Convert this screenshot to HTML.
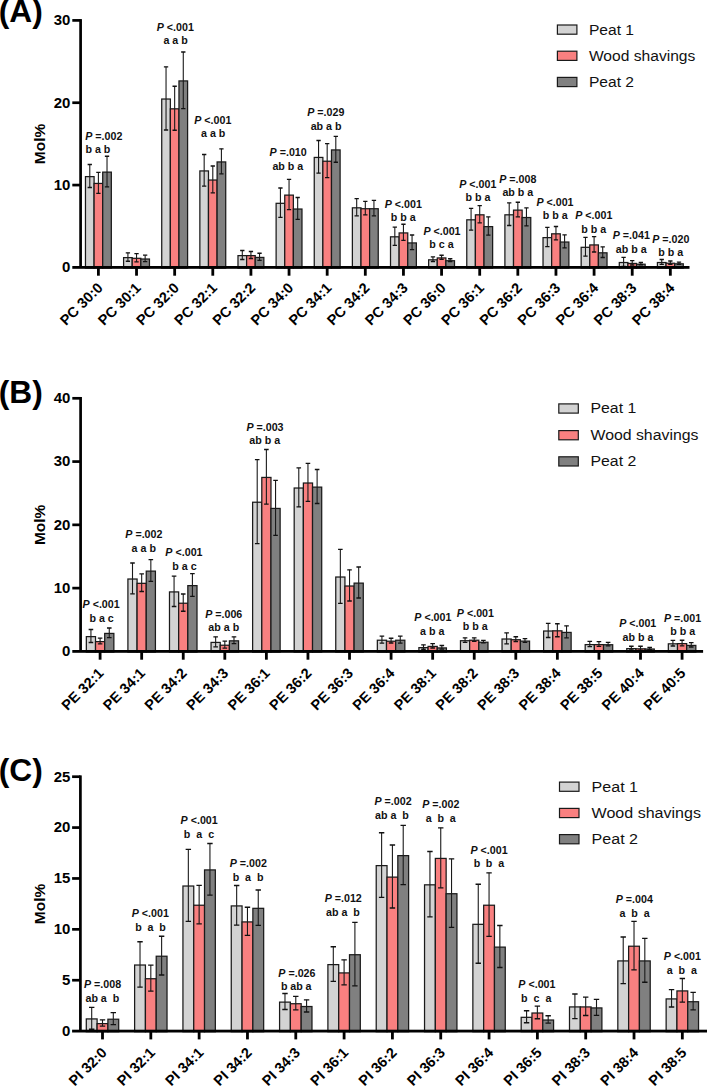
<!DOCTYPE html>
<html><head><meta charset="utf-8"><style>
html,body{margin:0;padding:0;background:#fff;overflow:hidden;}
svg{display:block;}
text{font-family:"Liberation Sans",sans-serif;fill:#000;}
.xl{font-size:14.5px;font-weight:bold;}
.an{font-size:10.0px;font-weight:bold;fill:#111;}
.tl{font-size:14.0px;font-weight:bold;}
.yt{font-size:15.5px;font-weight:bold;}
.pn{font-size:30.5px;font-weight:bold;}
.lg{font-size:14.6px;fill:#111;}
</style></head><body>
<svg width="707" height="1086" viewBox="0 0 707 1086">
<rect width="707" height="1086" fill="#fff"/>
<rect x="85.47" y="176.62" width="8.62" height="91.4" fill="#d3d3d3" stroke="#1a1a1a" stroke-width="1.25"/>
<rect x="94.09" y="183.43" width="8.62" height="84.6" fill="#f98080" stroke="#1a1a1a" stroke-width="1.25"/>
<rect x="102.71" y="172.12" width="8.62" height="95.9" fill="#808080" stroke="#1a1a1a" stroke-width="1.25"/>
<path d="M89.78 164.5V187.5" stroke="#1a1a1a" stroke-width="1.1" fill="none"/>
<path d="M87.62 164.5H91.94M87.62 187.5H91.94" stroke="#111" stroke-width="1.35" fill="none"/>
<path d="M98.4 172.3V193.3" stroke="#1a1a1a" stroke-width="1.1" fill="none"/>
<path d="M96.25 172.3H100.56M96.25 193.3H100.56" stroke="#111" stroke-width="1.35" fill="none"/>
<path d="M107.02 156.2V186.8" stroke="#1a1a1a" stroke-width="1.1" fill="none"/>
<path d="M104.86 156.2H109.17M104.86 186.8H109.17" stroke="#111" stroke-width="1.35" fill="none"/>
<rect x="97" y="267.4" width="2.8" height="8.3" fill="#000"/>
<text transform="translate(103.6 288.7) rotate(-45)" text-anchor="end" class="xl">PC 30:0</text>
<text transform="translate(85.2 139.8) scale(1.07 1)" class="an"><tspan font-style="italic">P</tspan> =.002</text>
<text transform="translate(97.9 152.7) scale(1.07 1)" text-anchor="middle" class="an">b a b</text>
<rect x="123.6" y="257.62" width="8.62" height="10.4" fill="#d3d3d3" stroke="#1a1a1a" stroke-width="1.25"/>
<rect x="132.22" y="258.32" width="8.62" height="9.7" fill="#f98080" stroke="#1a1a1a" stroke-width="1.25"/>
<rect x="140.84" y="259.02" width="8.62" height="9" fill="#808080" stroke="#1a1a1a" stroke-width="1.25"/>
<path d="M127.91 252.8V261.2" stroke="#1a1a1a" stroke-width="1.1" fill="none"/>
<path d="M125.75 252.8H130.06M125.75 261.2H130.06" stroke="#111" stroke-width="1.35" fill="none"/>
<path d="M136.53 253.55V261.85" stroke="#1a1a1a" stroke-width="1.1" fill="none"/>
<path d="M134.38 253.55H138.69M134.38 261.85H138.69" stroke="#111" stroke-width="1.35" fill="none"/>
<path d="M145.15 255.15V261.65" stroke="#1a1a1a" stroke-width="1.1" fill="none"/>
<path d="M142.99 255.15H147.3M142.99 261.65H147.3" stroke="#111" stroke-width="1.35" fill="none"/>
<rect x="135.13" y="267.4" width="2.8" height="8.3" fill="#000"/>
<text transform="translate(141.73 288.7) rotate(-45)" text-anchor="end" class="xl">PC 30:1</text>
<rect x="161.73" y="99.03" width="8.62" height="169" fill="#d3d3d3" stroke="#1a1a1a" stroke-width="1.25"/>
<rect x="170.35" y="108.83" width="8.62" height="159.2" fill="#f98080" stroke="#1a1a1a" stroke-width="1.25"/>
<rect x="178.97" y="80.92" width="8.62" height="187.1" fill="#808080" stroke="#1a1a1a" stroke-width="1.25"/>
<path d="M166.04 66.8V130" stroke="#1a1a1a" stroke-width="1.1" fill="none"/>
<path d="M163.89 66.8H168.2M163.89 130H168.2" stroke="#111" stroke-width="1.35" fill="none"/>
<path d="M174.66 86.2V130.2" stroke="#1a1a1a" stroke-width="1.1" fill="none"/>
<path d="M172.51 86.2H176.82M172.51 130.2H176.82" stroke="#111" stroke-width="1.35" fill="none"/>
<path d="M183.28 52V108.6" stroke="#1a1a1a" stroke-width="1.1" fill="none"/>
<path d="M181.13 52H185.44M181.13 108.6H185.44" stroke="#111" stroke-width="1.35" fill="none"/>
<rect x="173.26" y="267.4" width="2.8" height="8.3" fill="#000"/>
<text transform="translate(179.86 288.7) rotate(-45)" text-anchor="end" class="xl">PC 32:0</text>
<text transform="translate(175.26 31) scale(1.07 1)" text-anchor="middle" class="an"><tspan font-style="italic">P</tspan> <.001</text>
<text transform="translate(175.56 44.1) scale(1.07 1)" text-anchor="middle" class="an">a a b</text>
<rect x="199.86" y="170.93" width="8.62" height="97.1" fill="#d3d3d3" stroke="#1a1a1a" stroke-width="1.25"/>
<rect x="208.48" y="180.03" width="8.62" height="88" fill="#f98080" stroke="#1a1a1a" stroke-width="1.25"/>
<rect x="217.1" y="161.93" width="8.62" height="106.1" fill="#808080" stroke="#1a1a1a" stroke-width="1.25"/>
<path d="M204.17 154.5V186.1" stroke="#1a1a1a" stroke-width="1.1" fill="none"/>
<path d="M202.02 154.5H206.33M202.02 186.1H206.33" stroke="#111" stroke-width="1.35" fill="none"/>
<path d="M212.79 166V192.8" stroke="#1a1a1a" stroke-width="1.1" fill="none"/>
<path d="M210.64 166H214.95M210.64 192.8H214.95" stroke="#111" stroke-width="1.35" fill="none"/>
<path d="M221.41 148.8V173.8" stroke="#1a1a1a" stroke-width="1.1" fill="none"/>
<path d="M219.26 148.8H223.57M219.26 173.8H223.57" stroke="#111" stroke-width="1.35" fill="none"/>
<rect x="211.39" y="267.4" width="2.8" height="8.3" fill="#000"/>
<text transform="translate(217.99 288.7) rotate(-45)" text-anchor="end" class="xl">PC 32:1</text>
<text transform="translate(212.79 123.9) scale(1.07 1)" text-anchor="middle" class="an"><tspan font-style="italic">P</tspan> <.001</text>
<text transform="translate(213.19 136.8) scale(1.07 1)" text-anchor="middle" class="an">a a b</text>
<rect x="237.99" y="255.62" width="8.62" height="12.4" fill="#d3d3d3" stroke="#1a1a1a" stroke-width="1.25"/>
<rect x="246.61" y="255.62" width="8.62" height="12.4" fill="#f98080" stroke="#1a1a1a" stroke-width="1.25"/>
<rect x="255.23" y="257.43" width="8.62" height="10.6" fill="#808080" stroke="#1a1a1a" stroke-width="1.25"/>
<path d="M242.3 250.5V259.5" stroke="#1a1a1a" stroke-width="1.1" fill="none"/>
<path d="M240.15 250.5H244.46M240.15 259.5H244.46" stroke="#111" stroke-width="1.35" fill="none"/>
<path d="M250.92 251.5V258.5" stroke="#1a1a1a" stroke-width="1.1" fill="none"/>
<path d="M248.77 251.5H253.08M248.77 258.5H253.08" stroke="#111" stroke-width="1.35" fill="none"/>
<path d="M259.54 253.2V260.4" stroke="#1a1a1a" stroke-width="1.1" fill="none"/>
<path d="M257.39 253.2H261.69M257.39 260.4H261.69" stroke="#111" stroke-width="1.35" fill="none"/>
<rect x="249.52" y="267.4" width="2.8" height="8.3" fill="#000"/>
<text transform="translate(256.12 288.7) rotate(-45)" text-anchor="end" class="xl">PC 32:2</text>
<rect x="276.12" y="203.32" width="8.62" height="64.7" fill="#d3d3d3" stroke="#1a1a1a" stroke-width="1.25"/>
<rect x="284.74" y="195.12" width="8.62" height="72.9" fill="#f98080" stroke="#1a1a1a" stroke-width="1.25"/>
<rect x="293.36" y="209.03" width="8.62" height="59" fill="#808080" stroke="#1a1a1a" stroke-width="1.25"/>
<path d="M280.43 188V217.4" stroke="#1a1a1a" stroke-width="1.1" fill="none"/>
<path d="M278.28 188H282.58M278.28 217.4H282.58" stroke="#111" stroke-width="1.35" fill="none"/>
<path d="M289.05 179.4V209.6" stroke="#1a1a1a" stroke-width="1.1" fill="none"/>
<path d="M286.9 179.4H291.2M286.9 209.6H291.2" stroke="#111" stroke-width="1.35" fill="none"/>
<path d="M297.67 197.5V219.3" stroke="#1a1a1a" stroke-width="1.1" fill="none"/>
<path d="M295.52 197.5H299.82M295.52 219.3H299.82" stroke="#111" stroke-width="1.35" fill="none"/>
<rect x="287.65" y="267.4" width="2.8" height="8.3" fill="#000"/>
<text transform="translate(294.25 288.7) rotate(-45)" text-anchor="end" class="xl">PC 34:0</text>
<text transform="translate(288.15 156.3) scale(1.07 1)" text-anchor="middle" class="an"><tspan font-style="italic">P</tspan> =.010</text>
<text transform="translate(287.85 169.7) scale(1.07 1)" text-anchor="middle" class="an">ab b a</text>
<rect x="314.25" y="157.43" width="8.62" height="110.6" fill="#d3d3d3" stroke="#1a1a1a" stroke-width="1.25"/>
<rect x="322.87" y="161.22" width="8.62" height="106.8" fill="#f98080" stroke="#1a1a1a" stroke-width="1.25"/>
<rect x="331.49" y="149.93" width="8.62" height="118.1" fill="#808080" stroke="#1a1a1a" stroke-width="1.25"/>
<path d="M318.56 140.5V173.1" stroke="#1a1a1a" stroke-width="1.1" fill="none"/>
<path d="M316.41 140.5H320.72M316.41 173.1H320.72" stroke="#111" stroke-width="1.35" fill="none"/>
<path d="M327.18 143.6V177.6" stroke="#1a1a1a" stroke-width="1.1" fill="none"/>
<path d="M325.03 143.6H329.34M325.03 177.6H329.34" stroke="#111" stroke-width="1.35" fill="none"/>
<path d="M335.8 136.4V162.2" stroke="#1a1a1a" stroke-width="1.1" fill="none"/>
<path d="M333.65 136.4H337.96M333.65 162.2H337.96" stroke="#111" stroke-width="1.35" fill="none"/>
<rect x="325.78" y="267.4" width="2.8" height="8.3" fill="#000"/>
<text transform="translate(332.38 288.7) rotate(-45)" text-anchor="end" class="xl">PC 34:1</text>
<text transform="translate(325.78 116) scale(1.07 1)" text-anchor="middle" class="an"><tspan font-style="italic">P</tspan> =.029</text>
<text transform="translate(326.08 129.6) scale(1.07 1)" text-anchor="middle" class="an">ab a b</text>
<rect x="352.38" y="207.82" width="8.62" height="60.2" fill="#d3d3d3" stroke="#1a1a1a" stroke-width="1.25"/>
<rect x="361" y="208.72" width="8.62" height="59.3" fill="#f98080" stroke="#1a1a1a" stroke-width="1.25"/>
<rect x="369.62" y="208.72" width="8.62" height="59.3" fill="#808080" stroke="#1a1a1a" stroke-width="1.25"/>
<path d="M356.69 198.6V215.8" stroke="#1a1a1a" stroke-width="1.1" fill="none"/>
<path d="M354.54 198.6H358.85M354.54 215.8H358.85" stroke="#111" stroke-width="1.35" fill="none"/>
<path d="M365.31 201.3V214.9" stroke="#1a1a1a" stroke-width="1.1" fill="none"/>
<path d="M363.16 201.3H367.47M363.16 214.9H367.47" stroke="#111" stroke-width="1.35" fill="none"/>
<path d="M373.93 200.4V215.8" stroke="#1a1a1a" stroke-width="1.1" fill="none"/>
<path d="M371.78 200.4H376.09M371.78 215.8H376.09" stroke="#111" stroke-width="1.35" fill="none"/>
<rect x="363.91" y="267.4" width="2.8" height="8.3" fill="#000"/>
<text transform="translate(370.51 288.7) rotate(-45)" text-anchor="end" class="xl">PC 34:2</text>
<rect x="390.51" y="236.82" width="8.62" height="31.2" fill="#d3d3d3" stroke="#1a1a1a" stroke-width="1.25"/>
<rect x="399.13" y="232.93" width="8.62" height="35.1" fill="#f98080" stroke="#1a1a1a" stroke-width="1.25"/>
<rect x="407.75" y="242.93" width="8.62" height="25.1" fill="#808080" stroke="#1a1a1a" stroke-width="1.25"/>
<path d="M394.82 227.1V245.3" stroke="#1a1a1a" stroke-width="1.1" fill="none"/>
<path d="M392.67 227.1H396.98M392.67 245.3H396.98" stroke="#111" stroke-width="1.35" fill="none"/>
<path d="M403.44 224.2V240.4" stroke="#1a1a1a" stroke-width="1.1" fill="none"/>
<path d="M401.29 224.2H405.6M401.29 240.4H405.6" stroke="#111" stroke-width="1.35" fill="none"/>
<path d="M412.06 235V249.6" stroke="#1a1a1a" stroke-width="1.1" fill="none"/>
<path d="M409.91 235H414.22M409.91 249.6H414.22" stroke="#111" stroke-width="1.35" fill="none"/>
<rect x="402.04" y="267.4" width="2.8" height="8.3" fill="#000"/>
<text transform="translate(408.64 288.7) rotate(-45)" text-anchor="end" class="xl">PC 34:3</text>
<text transform="translate(403.24 207.9) scale(1.07 1)" text-anchor="middle" class="an"><tspan font-style="italic">P</tspan> <.001</text>
<text transform="translate(403.24 221) scale(1.07 1)" text-anchor="middle" class="an">b b a</text>
<rect x="428.64" y="259.82" width="8.62" height="8.2" fill="#d3d3d3" stroke="#1a1a1a" stroke-width="1.25"/>
<rect x="437.26" y="257.93" width="8.62" height="10.1" fill="#f98080" stroke="#1a1a1a" stroke-width="1.25"/>
<rect x="445.88" y="260.73" width="8.62" height="7.3" fill="#808080" stroke="#1a1a1a" stroke-width="1.25"/>
<path d="M432.95 256.9V261.5" stroke="#1a1a1a" stroke-width="1.1" fill="none"/>
<path d="M430.8 256.9H435.11M430.8 261.5H435.11" stroke="#111" stroke-width="1.35" fill="none"/>
<path d="M441.57 255.2V259.4" stroke="#1a1a1a" stroke-width="1.1" fill="none"/>
<path d="M439.42 255.2H443.73M439.42 259.4H443.73" stroke="#111" stroke-width="1.35" fill="none"/>
<path d="M450.19 258.7V261.5" stroke="#1a1a1a" stroke-width="1.1" fill="none"/>
<path d="M448.04 258.7H452.35M448.04 261.5H452.35" stroke="#111" stroke-width="1.35" fill="none"/>
<rect x="440.17" y="267.4" width="2.8" height="8.3" fill="#000"/>
<text transform="translate(446.77 288.7) rotate(-45)" text-anchor="end" class="xl">PC 36:0</text>
<text transform="translate(441.97 234.6) scale(1.07 1)" text-anchor="middle" class="an"><tspan font-style="italic">P</tspan> <.001</text>
<text transform="translate(441.47 247.5) scale(1.07 1)" text-anchor="middle" class="an">b c a</text>
<rect x="466.77" y="219.82" width="8.62" height="48.2" fill="#d3d3d3" stroke="#1a1a1a" stroke-width="1.25"/>
<rect x="475.39" y="214.82" width="8.62" height="53.2" fill="#f98080" stroke="#1a1a1a" stroke-width="1.25"/>
<rect x="484.01" y="226.62" width="8.62" height="41.4" fill="#808080" stroke="#1a1a1a" stroke-width="1.25"/>
<path d="M471.08 208.3V230.1" stroke="#1a1a1a" stroke-width="1.1" fill="none"/>
<path d="M468.93 208.3H473.24M468.93 230.1H473.24" stroke="#111" stroke-width="1.35" fill="none"/>
<path d="M479.7 205.6V222.8" stroke="#1a1a1a" stroke-width="1.1" fill="none"/>
<path d="M477.55 205.6H481.86M477.55 222.8H481.86" stroke="#111" stroke-width="1.35" fill="none"/>
<path d="M488.32 216.9V235.1" stroke="#1a1a1a" stroke-width="1.1" fill="none"/>
<path d="M486.17 216.9H490.48M486.17 235.1H490.48" stroke="#111" stroke-width="1.35" fill="none"/>
<rect x="478.3" y="267.4" width="2.8" height="8.3" fill="#000"/>
<text transform="translate(484.9 288.7) rotate(-45)" text-anchor="end" class="xl">PC 36:1</text>
<text transform="translate(477.8 187.5) scale(1.07 1)" text-anchor="middle" class="an"><tspan font-style="italic">P</tspan> <.001</text>
<text transform="translate(478 201.1) scale(1.07 1)" text-anchor="middle" class="an">b b a</text>
<rect x="504.9" y="214.82" width="8.62" height="53.2" fill="#d3d3d3" stroke="#1a1a1a" stroke-width="1.25"/>
<rect x="513.52" y="210.12" width="8.62" height="57.9" fill="#f98080" stroke="#1a1a1a" stroke-width="1.25"/>
<rect x="522.14" y="217.53" width="8.62" height="50.5" fill="#808080" stroke="#1a1a1a" stroke-width="1.25"/>
<path d="M509.21 202.9V225.5" stroke="#1a1a1a" stroke-width="1.1" fill="none"/>
<path d="M507.06 202.9H511.37M507.06 225.5H511.37" stroke="#111" stroke-width="1.35" fill="none"/>
<path d="M517.83 202.2V216.8" stroke="#1a1a1a" stroke-width="1.1" fill="none"/>
<path d="M515.68 202.2H519.99M515.68 216.8H519.99" stroke="#111" stroke-width="1.35" fill="none"/>
<path d="M526.45 207.9V225.9" stroke="#1a1a1a" stroke-width="1.1" fill="none"/>
<path d="M524.3 207.9H528.61M524.3 225.9H528.61" stroke="#111" stroke-width="1.35" fill="none"/>
<rect x="516.43" y="267.4" width="2.8" height="8.3" fill="#000"/>
<text transform="translate(523.03 288.7) rotate(-45)" text-anchor="end" class="xl">PC 36:2</text>
<text transform="translate(517.83 182.5) scale(1.07 1)" text-anchor="middle" class="an"><tspan font-style="italic">P</tspan> =.008</text>
<text transform="translate(517.83 196.1) scale(1.07 1)" text-anchor="middle" class="an">ab b a</text>
<rect x="543.03" y="237.62" width="8.62" height="30.4" fill="#d3d3d3" stroke="#1a1a1a" stroke-width="1.25"/>
<rect x="551.65" y="233.82" width="8.62" height="34.2" fill="#f98080" stroke="#1a1a1a" stroke-width="1.25"/>
<rect x="560.27" y="242.03" width="8.62" height="26" fill="#808080" stroke="#1a1a1a" stroke-width="1.25"/>
<path d="M547.34 227.4V246.6" stroke="#1a1a1a" stroke-width="1.1" fill="none"/>
<path d="M545.19 227.4H549.5M545.19 246.6H549.5" stroke="#111" stroke-width="1.35" fill="none"/>
<path d="M555.96 226.5V239.9" stroke="#1a1a1a" stroke-width="1.1" fill="none"/>
<path d="M553.81 226.5H558.12M553.81 239.9H558.12" stroke="#111" stroke-width="1.35" fill="none"/>
<path d="M564.58 234.9V247.9" stroke="#1a1a1a" stroke-width="1.1" fill="none"/>
<path d="M562.43 234.9H566.74M562.43 247.9H566.74" stroke="#111" stroke-width="1.35" fill="none"/>
<rect x="554.56" y="267.4" width="2.8" height="8.3" fill="#000"/>
<text transform="translate(561.16 288.7) rotate(-45)" text-anchor="end" class="xl">PC 36:3</text>
<text transform="translate(554.96 205.8) scale(1.07 1)" text-anchor="middle" class="an"><tspan font-style="italic">P</tspan> <.001</text>
<text transform="translate(555.26 219.2) scale(1.07 1)" text-anchor="middle" class="an">b b a</text>
<rect x="581.16" y="247.32" width="8.62" height="20.7" fill="#d3d3d3" stroke="#1a1a1a" stroke-width="1.25"/>
<rect x="589.78" y="244.93" width="8.62" height="23.1" fill="#f98080" stroke="#1a1a1a" stroke-width="1.25"/>
<rect x="598.4" y="252.82" width="8.62" height="15.2" fill="#808080" stroke="#1a1a1a" stroke-width="1.25"/>
<path d="M585.47 237.3V256.1" stroke="#1a1a1a" stroke-width="1.1" fill="none"/>
<path d="M583.32 237.3H587.62M583.32 256.1H587.62" stroke="#111" stroke-width="1.35" fill="none"/>
<path d="M594.09 236.6V252" stroke="#1a1a1a" stroke-width="1.1" fill="none"/>
<path d="M591.94 236.6H596.25M591.94 252H596.25" stroke="#111" stroke-width="1.35" fill="none"/>
<path d="M602.71 246.9V257.5" stroke="#1a1a1a" stroke-width="1.1" fill="none"/>
<path d="M600.56 246.9H604.87M600.56 257.5H604.87" stroke="#111" stroke-width="1.35" fill="none"/>
<rect x="592.69" y="267.4" width="2.8" height="8.3" fill="#000"/>
<text transform="translate(599.29 288.7) rotate(-45)" text-anchor="end" class="xl">PC 36:4</text>
<text transform="translate(593.79 219) scale(1.07 1)" text-anchor="middle" class="an"><tspan font-style="italic">P</tspan> <.001</text>
<text transform="translate(593.69 232.5) scale(1.07 1)" text-anchor="middle" class="an">b b a</text>
<rect x="619.29" y="262.52" width="8.62" height="5.5" fill="#d3d3d3" stroke="#1a1a1a" stroke-width="1.25"/>
<rect x="627.91" y="263.43" width="8.62" height="4.6" fill="#f98080" stroke="#1a1a1a" stroke-width="1.25"/>
<rect x="636.53" y="264.23" width="8.62" height="3.8" fill="#808080" stroke="#1a1a1a" stroke-width="1.25"/>
<path d="M623.6 257.4V266.4" stroke="#1a1a1a" stroke-width="1.1" fill="none"/>
<path d="M621.45 257.4H625.75M621.45 266.4H625.75" stroke="#111" stroke-width="1.35" fill="none"/>
<path d="M632.22 260.6V265" stroke="#1a1a1a" stroke-width="1.1" fill="none"/>
<path d="M630.07 260.6H634.38M630.07 265H634.38" stroke="#111" stroke-width="1.35" fill="none"/>
<path d="M640.84 262.5V264.7" stroke="#1a1a1a" stroke-width="1.1" fill="none"/>
<path d="M638.69 262.5H643M638.69 264.7H643" stroke="#111" stroke-width="1.35" fill="none"/>
<rect x="630.82" y="267.4" width="2.8" height="8.3" fill="#000"/>
<text transform="translate(637.42 288.7) rotate(-45)" text-anchor="end" class="xl">PC 38:3</text>
<text transform="translate(631.32 239) scale(1.07 1)" text-anchor="middle" class="an"><tspan font-style="italic">P</tspan> =.041</text>
<text transform="translate(631.12 252.7) scale(1.07 1)" text-anchor="middle" class="an">ab b a</text>
<rect x="657.42" y="262.52" width="8.62" height="5.5" fill="#d3d3d3" stroke="#1a1a1a" stroke-width="1.25"/>
<rect x="666.04" y="263.23" width="8.62" height="4.8" fill="#f98080" stroke="#1a1a1a" stroke-width="1.25"/>
<rect x="674.66" y="263.82" width="8.62" height="4.2" fill="#808080" stroke="#1a1a1a" stroke-width="1.25"/>
<path d="M661.73 259.5V264.3" stroke="#1a1a1a" stroke-width="1.1" fill="none"/>
<path d="M659.58 259.5H663.88M659.58 264.3H663.88" stroke="#111" stroke-width="1.35" fill="none"/>
<path d="M670.35 261V264.2" stroke="#1a1a1a" stroke-width="1.1" fill="none"/>
<path d="M668.2 261H672.5M668.2 264.2H672.5" stroke="#111" stroke-width="1.35" fill="none"/>
<path d="M678.97 262.1V264.3" stroke="#1a1a1a" stroke-width="1.1" fill="none"/>
<path d="M676.82 262.1H681.12M676.82 264.3H681.12" stroke="#111" stroke-width="1.35" fill="none"/>
<rect x="668.95" y="267.4" width="2.8" height="8.3" fill="#000"/>
<text transform="translate(675.55 288.7) rotate(-45)" text-anchor="end" class="xl">PC 38:4</text>
<text transform="translate(670.75 243) scale(1.07 1)" text-anchor="middle" class="an"><tspan font-style="italic">P</tspan> =.020</text>
<text transform="translate(670.65 255.8) scale(1.07 1)" text-anchor="middle" class="an">b b a</text>
<rect x="79.25" y="19.1" width="2.7" height="248.3" fill="#000"/>
<rect x="72.3" y="266" width="617.2" height="2.8" fill="#000"/>
<text transform="translate(70.4 272.3) scale(1.07 1)" text-anchor="end" class="tl">0</text>
<rect x="72.3" y="183.72" width="8.3" height="2.7" fill="#000"/>
<text transform="translate(70.4 189.97) scale(1.07 1)" text-anchor="end" class="tl">10</text>
<rect x="72.3" y="101.38" width="8.3" height="2.7" fill="#000"/>
<text transform="translate(70.4 107.63) scale(1.07 1)" text-anchor="end" class="tl">20</text>
<rect x="72.3" y="19.05" width="8.3" height="2.7" fill="#000"/>
<text transform="translate(70.4 25.3) scale(1.07 1)" text-anchor="end" class="tl">30</text>
<text transform="translate(45 143.9) rotate(-90)" text-anchor="middle" class="yt">Mol%</text>
<text transform="translate(-1.3 22.2) scale(1.04 1)" class="pn">(A)</text>
<rect x="557.4" y="25" width="19.5" height="9.2" fill="#d3d3d3" stroke="#1a1a1a" stroke-width="1.2"/>
<text transform="translate(588.9 34.5) scale(1.07 1)" class="lg">Peat 1</text>
<rect x="557.4" y="51.2" width="19.5" height="9.2" fill="#f98080" stroke="#1a1a1a" stroke-width="1.2"/>
<text transform="translate(588.9 60.7) scale(1.07 1)" class="lg">Wood shavings</text>
<rect x="557.4" y="77.4" width="19.5" height="9.2" fill="#808080" stroke="#1a1a1a" stroke-width="1.2"/>
<text transform="translate(588.9 86.9) scale(1.07 1)" class="lg">Peat 2</text>
<rect x="86.34" y="636.62" width="9.17" height="15.4" fill="#d3d3d3" stroke="#1a1a1a" stroke-width="1.25"/>
<rect x="95.52" y="641.62" width="9.17" height="10.4" fill="#f98080" stroke="#1a1a1a" stroke-width="1.25"/>
<rect x="104.69" y="633.42" width="9.17" height="18.6" fill="#808080" stroke="#1a1a1a" stroke-width="1.25"/>
<path d="M90.93 629.5V642.5" stroke="#1a1a1a" stroke-width="1.1" fill="none"/>
<path d="M88.64 629.5H93.22M88.64 642.5H93.22" stroke="#111" stroke-width="1.35" fill="none"/>
<path d="M100.1 638.1V643.9" stroke="#1a1a1a" stroke-width="1.1" fill="none"/>
<path d="M97.81 638.1H102.39M97.81 643.9H102.39" stroke="#111" stroke-width="1.35" fill="none"/>
<path d="M109.27 628V637.6" stroke="#1a1a1a" stroke-width="1.1" fill="none"/>
<path d="M106.98 628H111.56M106.98 637.6H111.56" stroke="#111" stroke-width="1.35" fill="none"/>
<rect x="98.7" y="651.4" width="2.8" height="8.3" fill="#000"/>
<text transform="translate(104.5 674.1) rotate(-45)" text-anchor="end" class="xl">PE 32:1</text>
<text transform="translate(101.1 608.3) scale(1.07 1)" text-anchor="middle" class="an"><tspan font-style="italic">P</tspan> <.001</text>
<text transform="translate(101.6 622) scale(1.07 1)" text-anchor="middle" class="an">b a c</text>
<rect x="127.91" y="579.02" width="9.17" height="73" fill="#d3d3d3" stroke="#1a1a1a" stroke-width="1.25"/>
<rect x="137.08" y="583.33" width="9.17" height="68.7" fill="#f98080" stroke="#1a1a1a" stroke-width="1.25"/>
<rect x="146.25" y="571.12" width="9.17" height="80.9" fill="#808080" stroke="#1a1a1a" stroke-width="1.25"/>
<path d="M132.5 563V593.8" stroke="#1a1a1a" stroke-width="1.1" fill="none"/>
<path d="M130.21 563H134.79M130.21 593.8H134.79" stroke="#111" stroke-width="1.35" fill="none"/>
<path d="M141.67 573.9V591.5" stroke="#1a1a1a" stroke-width="1.1" fill="none"/>
<path d="M139.38 573.9H143.96M139.38 591.5H143.96" stroke="#111" stroke-width="1.35" fill="none"/>
<path d="M150.84 559.6V581.4" stroke="#1a1a1a" stroke-width="1.1" fill="none"/>
<path d="M148.55 559.6H153.13M148.55 581.4H153.13" stroke="#111" stroke-width="1.35" fill="none"/>
<rect x="140.27" y="651.4" width="2.8" height="8.3" fill="#000"/>
<text transform="translate(146.07 674.1) rotate(-45)" text-anchor="end" class="xl">PE 34:1</text>
<text transform="translate(143.87 538.1) scale(1.07 1)" text-anchor="middle" class="an"><tspan font-style="italic">P</tspan> =.002</text>
<text transform="translate(143.77 552.1) scale(1.07 1)" text-anchor="middle" class="an">a a b</text>
<rect x="169.49" y="591.92" width="9.17" height="60.1" fill="#d3d3d3" stroke="#1a1a1a" stroke-width="1.25"/>
<rect x="178.66" y="603.23" width="9.17" height="48.8" fill="#f98080" stroke="#1a1a1a" stroke-width="1.25"/>
<rect x="187.83" y="585.62" width="9.17" height="66.4" fill="#808080" stroke="#1a1a1a" stroke-width="1.25"/>
<path d="M174.07 576.1V606.5" stroke="#1a1a1a" stroke-width="1.1" fill="none"/>
<path d="M171.78 576.1H176.36M171.78 606.5H176.36" stroke="#111" stroke-width="1.35" fill="none"/>
<path d="M183.24 594V611.2" stroke="#1a1a1a" stroke-width="1.1" fill="none"/>
<path d="M180.95 594H185.53M180.95 611.2H185.53" stroke="#111" stroke-width="1.35" fill="none"/>
<path d="M192.41 573.6V596.4" stroke="#1a1a1a" stroke-width="1.1" fill="none"/>
<path d="M190.12 573.6H194.7M190.12 596.4H194.7" stroke="#111" stroke-width="1.35" fill="none"/>
<rect x="181.84" y="651.4" width="2.8" height="8.3" fill="#000"/>
<text transform="translate(187.64 674.1) rotate(-45)" text-anchor="end" class="xl">PE 34:2</text>
<text transform="translate(183.94 556.2) scale(1.07 1)" text-anchor="middle" class="an"><tspan font-style="italic">P</tspan> <.001</text>
<text transform="translate(184.44 569.8) scale(1.07 1)" text-anchor="middle" class="an">b a c</text>
<rect x="211.06" y="642.42" width="9.17" height="9.6" fill="#d3d3d3" stroke="#1a1a1a" stroke-width="1.25"/>
<rect x="220.22" y="645.23" width="9.17" height="6.8" fill="#f98080" stroke="#1a1a1a" stroke-width="1.25"/>
<rect x="229.4" y="640.83" width="9.17" height="11.2" fill="#808080" stroke="#1a1a1a" stroke-width="1.25"/>
<path d="M215.64 636.8V646.8" stroke="#1a1a1a" stroke-width="1.1" fill="none"/>
<path d="M213.35 636.8H217.93M213.35 646.8H217.93" stroke="#111" stroke-width="1.35" fill="none"/>
<path d="M224.81 641.1V648.1" stroke="#1a1a1a" stroke-width="1.1" fill="none"/>
<path d="M222.52 641.1H227.1M222.52 648.1H227.1" stroke="#111" stroke-width="1.35" fill="none"/>
<path d="M233.98 636.8V643.6" stroke="#1a1a1a" stroke-width="1.1" fill="none"/>
<path d="M231.69 636.8H236.27M231.69 643.6H236.27" stroke="#111" stroke-width="1.35" fill="none"/>
<rect x="223.41" y="651.4" width="2.8" height="8.3" fill="#000"/>
<text transform="translate(229.21 674.1) rotate(-45)" text-anchor="end" class="xl">PE 34:3</text>
<text transform="translate(223.71 617.8) scale(1.07 1)" text-anchor="middle" class="an"><tspan font-style="italic">P</tspan> =.006</text>
<text transform="translate(223.71 631.3) scale(1.07 1)" text-anchor="middle" class="an">ab a b</text>
<rect x="252.62" y="502.23" width="9.17" height="149.8" fill="#d3d3d3" stroke="#1a1a1a" stroke-width="1.25"/>
<rect x="261.8" y="477.43" width="9.17" height="174.6" fill="#f98080" stroke="#1a1a1a" stroke-width="1.25"/>
<rect x="270.96" y="508.43" width="9.17" height="143.6" fill="#808080" stroke="#1a1a1a" stroke-width="1.25"/>
<path d="M257.21 459.6V543.6" stroke="#1a1a1a" stroke-width="1.1" fill="none"/>
<path d="M254.92 459.6H259.5M254.92 543.6H259.5" stroke="#111" stroke-width="1.35" fill="none"/>
<path d="M266.38 449.5V504.1" stroke="#1a1a1a" stroke-width="1.1" fill="none"/>
<path d="M264.09 449.5H268.67M264.09 504.1H268.67" stroke="#111" stroke-width="1.35" fill="none"/>
<path d="M275.55 480.3V535.3" stroke="#1a1a1a" stroke-width="1.1" fill="none"/>
<path d="M273.26 480.3H277.84M273.26 535.3H277.84" stroke="#111" stroke-width="1.35" fill="none"/>
<rect x="264.98" y="651.4" width="2.8" height="8.3" fill="#000"/>
<text transform="translate(270.78 674.1) rotate(-45)" text-anchor="end" class="xl">PE 36:1</text>
<text transform="translate(264.98 431) scale(1.07 1)" text-anchor="middle" class="an"><tspan font-style="italic">P</tspan> =.003</text>
<text transform="translate(264.78 444.4) scale(1.07 1)" text-anchor="middle" class="an">ab b a</text>
<rect x="294.19" y="488.02" width="9.17" height="164" fill="#d3d3d3" stroke="#1a1a1a" stroke-width="1.25"/>
<rect x="303.37" y="483.02" width="9.17" height="169" fill="#f98080" stroke="#1a1a1a" stroke-width="1.25"/>
<rect x="312.53" y="487.12" width="9.17" height="164.9" fill="#808080" stroke="#1a1a1a" stroke-width="1.25"/>
<path d="M298.78 467.9V506.9" stroke="#1a1a1a" stroke-width="1.1" fill="none"/>
<path d="M296.49 467.9H301.07M296.49 506.9H301.07" stroke="#111" stroke-width="1.35" fill="none"/>
<path d="M307.95 463.4V501.4" stroke="#1a1a1a" stroke-width="1.1" fill="none"/>
<path d="M305.66 463.4H310.24M305.66 501.4H310.24" stroke="#111" stroke-width="1.35" fill="none"/>
<path d="M317.12 469.5V503.5" stroke="#1a1a1a" stroke-width="1.1" fill="none"/>
<path d="M314.83 469.5H319.41M314.83 503.5H319.41" stroke="#111" stroke-width="1.35" fill="none"/>
<rect x="306.55" y="651.4" width="2.8" height="8.3" fill="#000"/>
<text transform="translate(312.35 674.1) rotate(-45)" text-anchor="end" class="xl">PE 36:2</text>
<rect x="335.76" y="577.02" width="9.17" height="75" fill="#d3d3d3" stroke="#1a1a1a" stroke-width="1.25"/>
<rect x="344.94" y="586.02" width="9.17" height="66" fill="#f98080" stroke="#1a1a1a" stroke-width="1.25"/>
<rect x="354.1" y="583.12" width="9.17" height="68.9" fill="#808080" stroke="#1a1a1a" stroke-width="1.25"/>
<path d="M340.35 549.4V603.4" stroke="#1a1a1a" stroke-width="1.1" fill="none"/>
<path d="M338.06 549.4H342.64M338.06 603.4H342.64" stroke="#111" stroke-width="1.35" fill="none"/>
<path d="M349.52 569.8V601" stroke="#1a1a1a" stroke-width="1.1" fill="none"/>
<path d="M347.23 569.8H351.81M347.23 601H351.81" stroke="#111" stroke-width="1.35" fill="none"/>
<path d="M358.69 567V598" stroke="#1a1a1a" stroke-width="1.1" fill="none"/>
<path d="M356.4 567H360.98M356.4 598H360.98" stroke="#111" stroke-width="1.35" fill="none"/>
<rect x="348.12" y="651.4" width="2.8" height="8.3" fill="#000"/>
<text transform="translate(353.92 674.1) rotate(-45)" text-anchor="end" class="xl">PE 36:3</text>
<rect x="377.34" y="640.23" width="9.17" height="11.8" fill="#d3d3d3" stroke="#1a1a1a" stroke-width="1.25"/>
<rect x="386.51" y="641.23" width="9.17" height="10.8" fill="#f98080" stroke="#1a1a1a" stroke-width="1.25"/>
<rect x="395.68" y="640.23" width="9.17" height="11.8" fill="#808080" stroke="#1a1a1a" stroke-width="1.25"/>
<path d="M381.92 636.1V643.1" stroke="#1a1a1a" stroke-width="1.1" fill="none"/>
<path d="M379.63 636.1H384.21M379.63 643.1H384.21" stroke="#111" stroke-width="1.35" fill="none"/>
<path d="M391.09 638.2V643" stroke="#1a1a1a" stroke-width="1.1" fill="none"/>
<path d="M388.8 638.2H393.38M388.8 643H393.38" stroke="#111" stroke-width="1.35" fill="none"/>
<path d="M400.26 636.1V643.1" stroke="#1a1a1a" stroke-width="1.1" fill="none"/>
<path d="M397.97 636.1H402.55M397.97 643.1H402.55" stroke="#111" stroke-width="1.35" fill="none"/>
<rect x="389.69" y="651.4" width="2.8" height="8.3" fill="#000"/>
<text transform="translate(395.49 674.1) rotate(-45)" text-anchor="end" class="xl">PE 36:4</text>
<rect x="418.9" y="647.62" width="9.17" height="4.4" fill="#d3d3d3" stroke="#1a1a1a" stroke-width="1.25"/>
<rect x="428.07" y="646.42" width="9.17" height="5.6" fill="#f98080" stroke="#1a1a1a" stroke-width="1.25"/>
<rect x="437.24" y="647.92" width="9.17" height="4.1" fill="#808080" stroke="#1a1a1a" stroke-width="1.25"/>
<path d="M423.49 644.8V649.2" stroke="#1a1a1a" stroke-width="1.1" fill="none"/>
<path d="M421.2 644.8H425.78M421.2 649.2H425.78" stroke="#111" stroke-width="1.35" fill="none"/>
<path d="M432.66 643.6V648" stroke="#1a1a1a" stroke-width="1.1" fill="none"/>
<path d="M430.37 643.6H434.95M430.37 648H434.95" stroke="#111" stroke-width="1.35" fill="none"/>
<path d="M441.83 645.5V649.1" stroke="#1a1a1a" stroke-width="1.1" fill="none"/>
<path d="M439.54 645.5H444.12M439.54 649.1H444.12" stroke="#111" stroke-width="1.35" fill="none"/>
<rect x="431.26" y="651.4" width="2.8" height="8.3" fill="#000"/>
<text transform="translate(437.06 674.1) rotate(-45)" text-anchor="end" class="xl">PE 38:1</text>
<text transform="translate(432.86 621.2) scale(1.07 1)" text-anchor="middle" class="an"><tspan font-style="italic">P</tspan> <.001</text>
<text transform="translate(432.26 635.2) scale(1.07 1)" text-anchor="middle" class="an">a b a</text>
<rect x="460.48" y="640.73" width="9.17" height="11.3" fill="#d3d3d3" stroke="#1a1a1a" stroke-width="1.25"/>
<rect x="469.65" y="640.23" width="9.17" height="11.8" fill="#f98080" stroke="#1a1a1a" stroke-width="1.25"/>
<rect x="478.81" y="642.23" width="9.17" height="9.8" fill="#808080" stroke="#1a1a1a" stroke-width="1.25"/>
<path d="M465.06 637.8V642.4" stroke="#1a1a1a" stroke-width="1.1" fill="none"/>
<path d="M462.77 637.8H467.35M462.77 642.4H467.35" stroke="#111" stroke-width="1.35" fill="none"/>
<path d="M474.23 637.8V641.4" stroke="#1a1a1a" stroke-width="1.1" fill="none"/>
<path d="M471.94 637.8H476.52M471.94 641.4H476.52" stroke="#111" stroke-width="1.35" fill="none"/>
<path d="M483.4 640.4V642.8" stroke="#1a1a1a" stroke-width="1.1" fill="none"/>
<path d="M481.11 640.4H485.69M481.11 642.8H485.69" stroke="#111" stroke-width="1.35" fill="none"/>
<rect x="472.83" y="651.4" width="2.8" height="8.3" fill="#000"/>
<text transform="translate(478.63 674.1) rotate(-45)" text-anchor="end" class="xl">PE 38:2</text>
<text transform="translate(475.43 616.9) scale(1.07 1)" text-anchor="middle" class="an"><tspan font-style="italic">P</tspan> <.001</text>
<text transform="translate(475.33 630.2) scale(1.07 1)" text-anchor="middle" class="an">b b a</text>
<rect x="502.04" y="639.02" width="9.17" height="13" fill="#d3d3d3" stroke="#1a1a1a" stroke-width="1.25"/>
<rect x="511.21" y="639.73" width="9.17" height="12.3" fill="#f98080" stroke="#1a1a1a" stroke-width="1.25"/>
<rect x="520.38" y="641.12" width="9.17" height="10.9" fill="#808080" stroke="#1a1a1a" stroke-width="1.25"/>
<path d="M506.63 632.9V643.9" stroke="#1a1a1a" stroke-width="1.1" fill="none"/>
<path d="M504.34 632.9H508.92M504.34 643.9H508.92" stroke="#111" stroke-width="1.35" fill="none"/>
<path d="M515.8 636.7V641.5" stroke="#1a1a1a" stroke-width="1.1" fill="none"/>
<path d="M513.51 636.7H518.09M513.51 641.5H518.09" stroke="#111" stroke-width="1.35" fill="none"/>
<path d="M524.97 638.6V642.4" stroke="#1a1a1a" stroke-width="1.1" fill="none"/>
<path d="M522.68 638.6H527.26M522.68 642.4H527.26" stroke="#111" stroke-width="1.35" fill="none"/>
<rect x="514.4" y="651.4" width="2.8" height="8.3" fill="#000"/>
<text transform="translate(520.2 674.1) rotate(-45)" text-anchor="end" class="xl">PE 38:3</text>
<rect x="543.62" y="631.02" width="9.17" height="21" fill="#d3d3d3" stroke="#1a1a1a" stroke-width="1.25"/>
<rect x="552.78" y="630.83" width="9.17" height="21.2" fill="#f98080" stroke="#1a1a1a" stroke-width="1.25"/>
<rect x="561.96" y="632.42" width="9.17" height="19.6" fill="#808080" stroke="#1a1a1a" stroke-width="1.25"/>
<path d="M548.2 623.3V637.5" stroke="#1a1a1a" stroke-width="1.1" fill="none"/>
<path d="M545.91 623.3H550.49M545.91 637.5H550.49" stroke="#111" stroke-width="1.35" fill="none"/>
<path d="M557.37 623.7V636.7" stroke="#1a1a1a" stroke-width="1.1" fill="none"/>
<path d="M555.08 623.7H559.66M555.08 636.7H559.66" stroke="#111" stroke-width="1.35" fill="none"/>
<path d="M566.54 625.8V637.8" stroke="#1a1a1a" stroke-width="1.1" fill="none"/>
<path d="M564.25 625.8H568.83M564.25 637.8H568.83" stroke="#111" stroke-width="1.35" fill="none"/>
<rect x="555.97" y="651.4" width="2.8" height="8.3" fill="#000"/>
<text transform="translate(561.77 674.1) rotate(-45)" text-anchor="end" class="xl">PE 38:4</text>
<rect x="585.19" y="644.62" width="9.17" height="7.4" fill="#d3d3d3" stroke="#1a1a1a" stroke-width="1.25"/>
<rect x="594.36" y="644.62" width="9.17" height="7.4" fill="#f98080" stroke="#1a1a1a" stroke-width="1.25"/>
<rect x="603.53" y="644.73" width="9.17" height="7.3" fill="#808080" stroke="#1a1a1a" stroke-width="1.25"/>
<path d="M589.77 641.4V646.6" stroke="#1a1a1a" stroke-width="1.1" fill="none"/>
<path d="M587.48 641.4H592.06M587.48 646.6H592.06" stroke="#111" stroke-width="1.35" fill="none"/>
<path d="M598.94 641.6V646.4" stroke="#1a1a1a" stroke-width="1.1" fill="none"/>
<path d="M596.65 641.6H601.23M596.65 646.4H601.23" stroke="#111" stroke-width="1.35" fill="none"/>
<path d="M608.11 642.4V645.8" stroke="#1a1a1a" stroke-width="1.1" fill="none"/>
<path d="M605.82 642.4H610.4M605.82 645.8H610.4" stroke="#111" stroke-width="1.35" fill="none"/>
<rect x="597.54" y="651.4" width="2.8" height="8.3" fill="#000"/>
<text transform="translate(603.34 674.1) rotate(-45)" text-anchor="end" class="xl">PE 38:5</text>
<rect x="626.75" y="648.62" width="9.17" height="3.4" fill="#d3d3d3" stroke="#1a1a1a" stroke-width="1.25"/>
<rect x="635.92" y="648.83" width="9.17" height="3.2" fill="#f98080" stroke="#1a1a1a" stroke-width="1.25"/>
<rect x="645.1" y="649.02" width="9.17" height="3" fill="#808080" stroke="#1a1a1a" stroke-width="1.25"/>
<path d="M631.34 646.2V649.8" stroke="#1a1a1a" stroke-width="1.1" fill="none"/>
<path d="M629.05 646.2H633.63M629.05 649.8H633.63" stroke="#111" stroke-width="1.35" fill="none"/>
<path d="M640.51 646.2V650.2" stroke="#1a1a1a" stroke-width="1.1" fill="none"/>
<path d="M638.22 646.2H642.8M638.22 650.2H642.8" stroke="#111" stroke-width="1.35" fill="none"/>
<path d="M649.68 647.4V649.4" stroke="#1a1a1a" stroke-width="1.1" fill="none"/>
<path d="M647.39 647.4H651.97M647.39 649.4H651.97" stroke="#111" stroke-width="1.35" fill="none"/>
<rect x="639.11" y="651.4" width="2.8" height="8.3" fill="#000"/>
<text transform="translate(644.91 674.1) rotate(-45)" text-anchor="end" class="xl">PE 40:4</text>
<text transform="translate(637.71 627.4) scale(1.07 1)" text-anchor="middle" class="an"><tspan font-style="italic">P</tspan> <.001</text>
<text transform="translate(637.91 641) scale(1.07 1)" text-anchor="middle" class="an">ab b a</text>
<rect x="668.33" y="643.83" width="9.17" height="8.2" fill="#d3d3d3" stroke="#1a1a1a" stroke-width="1.25"/>
<rect x="677.5" y="643.62" width="9.17" height="8.4" fill="#f98080" stroke="#1a1a1a" stroke-width="1.25"/>
<rect x="686.67" y="645.42" width="9.17" height="6.6" fill="#808080" stroke="#1a1a1a" stroke-width="1.25"/>
<path d="M672.91 640.4V646" stroke="#1a1a1a" stroke-width="1.1" fill="none"/>
<path d="M670.62 640.4H675.2M670.62 646H675.2" stroke="#111" stroke-width="1.35" fill="none"/>
<path d="M682.08 640.2V645.8" stroke="#1a1a1a" stroke-width="1.1" fill="none"/>
<path d="M679.79 640.2H684.37M679.79 645.8H684.37" stroke="#111" stroke-width="1.35" fill="none"/>
<path d="M691.25 642.6V647" stroke="#1a1a1a" stroke-width="1.1" fill="none"/>
<path d="M688.96 642.6H693.54M688.96 647H693.54" stroke="#111" stroke-width="1.35" fill="none"/>
<rect x="680.68" y="651.4" width="2.8" height="8.3" fill="#000"/>
<text transform="translate(686.48 674.1) rotate(-45)" text-anchor="end" class="xl">PE 40:5</text>
<text transform="translate(682.58 621.6) scale(1.07 1)" text-anchor="middle" class="an"><tspan font-style="italic">P</tspan> =.001</text>
<text transform="translate(682.78 635.1) scale(1.07 1)" text-anchor="middle" class="an">b b a</text>
<rect x="79.25" y="397" width="2.7" height="254.4" fill="#000"/>
<rect x="72.3" y="650" width="630.8" height="2.8" fill="#000"/>
<text transform="translate(70.4 656.3) scale(1.07 1)" text-anchor="end" class="tl">0</text>
<rect x="72.3" y="586.77" width="8.3" height="2.7" fill="#000"/>
<text transform="translate(70.4 593.02) scale(1.07 1)" text-anchor="end" class="tl">10</text>
<rect x="72.3" y="523.5" width="8.3" height="2.7" fill="#000"/>
<text transform="translate(70.4 529.75) scale(1.07 1)" text-anchor="end" class="tl">20</text>
<rect x="72.3" y="460.23" width="8.3" height="2.7" fill="#000"/>
<text transform="translate(70.4 466.48) scale(1.07 1)" text-anchor="end" class="tl">30</text>
<rect x="72.3" y="396.95" width="8.3" height="2.7" fill="#000"/>
<text transform="translate(70.4 403.2) scale(1.07 1)" text-anchor="end" class="tl">40</text>
<text transform="translate(45 524.85) rotate(-90)" text-anchor="middle" class="yt">Mol%</text>
<text transform="translate(-1.3 403.2) scale(1.04 1)" class="pn">(B)</text>
<rect x="558.8" y="403.9" width="19.5" height="9.2" fill="#d3d3d3" stroke="#1a1a1a" stroke-width="1.2"/>
<text transform="translate(590.5 413.3) scale(1.085 1)" class="lg">Peat 1</text>
<rect x="558.8" y="430.6" width="19.5" height="9.2" fill="#f98080" stroke="#1a1a1a" stroke-width="1.2"/>
<text transform="translate(590.5 439.5) scale(1.085 1)" class="lg">Wood shavings</text>
<rect x="558.8" y="456.8" width="19.5" height="9.2" fill="#808080" stroke="#1a1a1a" stroke-width="1.2"/>
<text transform="translate(590.5 465.7) scale(1.085 1)" class="lg">Peat 2</text>
<rect x="86.3" y="1018.92" width="10.8" height="12.8" fill="#d3d3d3" stroke="#1a1a1a" stroke-width="1.25"/>
<rect x="97.1" y="1023.62" width="10.8" height="8.1" fill="#f98080" stroke="#1a1a1a" stroke-width="1.25"/>
<rect x="107.9" y="1019.23" width="10.8" height="12.5" fill="#808080" stroke="#1a1a1a" stroke-width="1.25"/>
<path d="M91.7 1007.4V1029.2" stroke="#1a1a1a" stroke-width="1.1" fill="none"/>
<path d="M89 1007.4H94.4M89 1029.2H94.4" stroke="#111" stroke-width="1.35" fill="none"/>
<path d="M102.5 1019.9V1026.1" stroke="#1a1a1a" stroke-width="1.1" fill="none"/>
<path d="M99.8 1019.9H105.2M99.8 1026.1H105.2" stroke="#111" stroke-width="1.35" fill="none"/>
<path d="M113.3 1012.6V1024.6" stroke="#1a1a1a" stroke-width="1.1" fill="none"/>
<path d="M110.6 1012.6H116M110.6 1024.6H116" stroke="#111" stroke-width="1.35" fill="none"/>
<rect x="101.1" y="1031.1" width="2.8" height="8.3" fill="#000"/>
<text transform="translate(107.7 1053.6) rotate(-45)" text-anchor="end" class="xl">PI 32:0</text>
<text transform="translate(102.5 988) scale(1.07 1)" text-anchor="middle" class="an"><tspan font-style="italic">P</tspan> =.008</text>
<text transform="translate(91.7 1002) scale(1.07 1)" text-anchor="middle" class="an">ab</text>
<text transform="translate(103.8 1002) scale(1.07 1)" text-anchor="middle" class="an">a</text>
<text transform="translate(115.9 1002) scale(1.07 1)" text-anchor="middle" class="an">b</text>
<rect x="134.62" y="965.02" width="10.8" height="66.7" fill="#d3d3d3" stroke="#1a1a1a" stroke-width="1.25"/>
<rect x="145.42" y="978.73" width="10.8" height="53" fill="#f98080" stroke="#1a1a1a" stroke-width="1.25"/>
<rect x="156.22" y="956.23" width="10.8" height="75.5" fill="#808080" stroke="#1a1a1a" stroke-width="1.25"/>
<path d="M140.02 941.7V987.1" stroke="#1a1a1a" stroke-width="1.1" fill="none"/>
<path d="M137.32 941.7H142.72M137.32 987.1H142.72" stroke="#111" stroke-width="1.35" fill="none"/>
<path d="M150.82 965.1V991.1" stroke="#1a1a1a" stroke-width="1.1" fill="none"/>
<path d="M148.12 965.1H153.52M148.12 991.1H153.52" stroke="#111" stroke-width="1.35" fill="none"/>
<path d="M161.62 936.2V975" stroke="#1a1a1a" stroke-width="1.1" fill="none"/>
<path d="M158.92 936.2H164.32M158.92 975H164.32" stroke="#111" stroke-width="1.35" fill="none"/>
<rect x="149.42" y="1031.1" width="2.8" height="8.3" fill="#000"/>
<text transform="translate(156.02 1053.6) rotate(-45)" text-anchor="end" class="xl">PI 32:1</text>
<text transform="translate(150.32 917) scale(1.07 1)" text-anchor="middle" class="an"><tspan font-style="italic">P</tspan> <.001</text>
<text transform="translate(138.42 930.9) scale(1.07 1)" text-anchor="middle" class="an">b</text>
<text transform="translate(150.52 930.9) scale(1.07 1)" text-anchor="middle" class="an">a</text>
<text transform="translate(162.62 930.9) scale(1.07 1)" text-anchor="middle" class="an">b</text>
<rect x="182.94" y="886.02" width="10.8" height="145.7" fill="#d3d3d3" stroke="#1a1a1a" stroke-width="1.25"/>
<rect x="193.74" y="905.23" width="10.8" height="126.5" fill="#f98080" stroke="#1a1a1a" stroke-width="1.25"/>
<rect x="204.54" y="869.92" width="10.8" height="161.8" fill="#808080" stroke="#1a1a1a" stroke-width="1.25"/>
<path d="M188.34 849.4V921.4" stroke="#1a1a1a" stroke-width="1.1" fill="none"/>
<path d="M185.64 849.4H191.04M185.64 921.4H191.04" stroke="#111" stroke-width="1.35" fill="none"/>
<path d="M199.14 885.4V923.8" stroke="#1a1a1a" stroke-width="1.1" fill="none"/>
<path d="M196.44 885.4H201.84M196.44 923.8H201.84" stroke="#111" stroke-width="1.35" fill="none"/>
<path d="M209.94 843.5V895.1" stroke="#1a1a1a" stroke-width="1.1" fill="none"/>
<path d="M207.24 843.5H212.64M207.24 895.1H212.64" stroke="#111" stroke-width="1.35" fill="none"/>
<rect x="197.74" y="1031.1" width="2.8" height="8.3" fill="#000"/>
<text transform="translate(204.34 1053.6) rotate(-45)" text-anchor="end" class="xl">PI 34:1</text>
<text transform="translate(199.14 824.3) scale(1.07 1)" text-anchor="middle" class="an"><tspan font-style="italic">P</tspan> <.001</text>
<text transform="translate(187.04 838) scale(1.07 1)" text-anchor="middle" class="an">b</text>
<text transform="translate(199.14 838) scale(1.07 1)" text-anchor="middle" class="an">a</text>
<text transform="translate(211.24 838) scale(1.07 1)" text-anchor="middle" class="an">c</text>
<rect x="231.26" y="905.92" width="10.8" height="125.8" fill="#d3d3d3" stroke="#1a1a1a" stroke-width="1.25"/>
<rect x="242.06" y="921.92" width="10.8" height="109.8" fill="#f98080" stroke="#1a1a1a" stroke-width="1.25"/>
<rect x="252.86" y="908.33" width="10.8" height="123.4" fill="#808080" stroke="#1a1a1a" stroke-width="1.25"/>
<path d="M236.66 885.5V925.1" stroke="#1a1a1a" stroke-width="1.1" fill="none"/>
<path d="M233.96 885.5H239.36M233.96 925.1H239.36" stroke="#111" stroke-width="1.35" fill="none"/>
<path d="M247.46 907.2V935.4" stroke="#1a1a1a" stroke-width="1.1" fill="none"/>
<path d="M244.76 907.2H250.16M244.76 935.4H250.16" stroke="#111" stroke-width="1.35" fill="none"/>
<path d="M258.26 890V925.4" stroke="#1a1a1a" stroke-width="1.1" fill="none"/>
<path d="M255.56 890H260.96M255.56 925.4H260.96" stroke="#111" stroke-width="1.35" fill="none"/>
<rect x="246.06" y="1031.1" width="2.8" height="8.3" fill="#000"/>
<text transform="translate(252.66 1053.6) rotate(-45)" text-anchor="end" class="xl">PI 34:2</text>
<text transform="translate(248.26 866.7) scale(1.07 1)" text-anchor="middle" class="an"><tspan font-style="italic">P</tspan> =.002</text>
<text transform="translate(235.96 880.6) scale(1.07 1)" text-anchor="middle" class="an">b</text>
<text transform="translate(248.06 880.6) scale(1.07 1)" text-anchor="middle" class="an">a</text>
<text transform="translate(260.16 880.6) scale(1.07 1)" text-anchor="middle" class="an">b</text>
<rect x="279.58" y="1002.12" width="10.8" height="29.6" fill="#d3d3d3" stroke="#1a1a1a" stroke-width="1.25"/>
<rect x="290.38" y="1003.73" width="10.8" height="28" fill="#f98080" stroke="#1a1a1a" stroke-width="1.25"/>
<rect x="301.18" y="1006.52" width="10.8" height="25.2" fill="#808080" stroke="#1a1a1a" stroke-width="1.25"/>
<path d="M284.98 993.5V1009.5" stroke="#1a1a1a" stroke-width="1.1" fill="none"/>
<path d="M282.28 993.5H287.68M282.28 1009.5H287.68" stroke="#111" stroke-width="1.35" fill="none"/>
<path d="M295.78 996.4V1009.8" stroke="#1a1a1a" stroke-width="1.1" fill="none"/>
<path d="M293.08 996.4H298.48M293.08 1009.8H298.48" stroke="#111" stroke-width="1.35" fill="none"/>
<path d="M306.58 999.8V1012" stroke="#1a1a1a" stroke-width="1.1" fill="none"/>
<path d="M303.88 999.8H309.28M303.88 1012H309.28" stroke="#111" stroke-width="1.35" fill="none"/>
<rect x="294.38" y="1031.1" width="2.8" height="8.3" fill="#000"/>
<text transform="translate(300.98 1053.6) rotate(-45)" text-anchor="end" class="xl">PI 34:3</text>
<text transform="translate(296.88 976.9) scale(1.07 1)" text-anchor="middle" class="an"><tspan font-style="italic">P</tspan> =.026</text>
<text transform="translate(284.38 990.3) scale(1.07 1)" text-anchor="middle" class="an">b</text>
<text transform="translate(296.48 990.3) scale(1.07 1)" text-anchor="middle" class="an">ab</text>
<text transform="translate(308.58 990.3) scale(1.07 1)" text-anchor="middle" class="an">a</text>
<rect x="327.9" y="964.62" width="10.8" height="67.1" fill="#d3d3d3" stroke="#1a1a1a" stroke-width="1.25"/>
<rect x="338.7" y="972.92" width="10.8" height="58.8" fill="#f98080" stroke="#1a1a1a" stroke-width="1.25"/>
<rect x="349.5" y="954.73" width="10.8" height="77" fill="#808080" stroke="#1a1a1a" stroke-width="1.25"/>
<path d="M333.3 946.7V981.3" stroke="#1a1a1a" stroke-width="1.1" fill="none"/>
<path d="M330.6 946.7H336M330.6 981.3H336" stroke="#111" stroke-width="1.35" fill="none"/>
<path d="M344.1 959.8V984.8" stroke="#1a1a1a" stroke-width="1.1" fill="none"/>
<path d="M341.4 959.8H346.8M341.4 984.8H346.8" stroke="#111" stroke-width="1.35" fill="none"/>
<path d="M354.9 922.4V985.8" stroke="#1a1a1a" stroke-width="1.1" fill="none"/>
<path d="M352.2 922.4H357.6M352.2 985.8H357.6" stroke="#111" stroke-width="1.35" fill="none"/>
<rect x="342.7" y="1031.1" width="2.8" height="8.3" fill="#000"/>
<text transform="translate(349.3 1053.6) rotate(-45)" text-anchor="end" class="xl">PI 36:1</text>
<text transform="translate(343.2 902.2) scale(1.07 1)" text-anchor="middle" class="an"><tspan font-style="italic">P</tspan> =.012</text>
<text transform="translate(332.3 915.8) scale(1.07 1)" text-anchor="middle" class="an">ab</text>
<text transform="translate(344.4 915.8) scale(1.07 1)" text-anchor="middle" class="an">a</text>
<text transform="translate(356.5 915.8) scale(1.07 1)" text-anchor="middle" class="an">b</text>
<rect x="376.22" y="865.62" width="10.8" height="166.1" fill="#d3d3d3" stroke="#1a1a1a" stroke-width="1.25"/>
<rect x="387.02" y="877.12" width="10.8" height="154.6" fill="#f98080" stroke="#1a1a1a" stroke-width="1.25"/>
<rect x="397.82" y="855.62" width="10.8" height="176.1" fill="#808080" stroke="#1a1a1a" stroke-width="1.25"/>
<path d="M381.62 832.7V897.3" stroke="#1a1a1a" stroke-width="1.1" fill="none"/>
<path d="M378.92 832.7H384.32M378.92 897.3H384.32" stroke="#111" stroke-width="1.35" fill="none"/>
<path d="M392.42 845V908" stroke="#1a1a1a" stroke-width="1.1" fill="none"/>
<path d="M389.72 845H395.12M389.72 908H395.12" stroke="#111" stroke-width="1.35" fill="none"/>
<path d="M403.22 825.4V884.6" stroke="#1a1a1a" stroke-width="1.1" fill="none"/>
<path d="M400.52 825.4H405.92M400.52 884.6H405.92" stroke="#111" stroke-width="1.35" fill="none"/>
<rect x="391.02" y="1031.1" width="2.8" height="8.3" fill="#000"/>
<text transform="translate(397.62 1053.6) rotate(-45)" text-anchor="end" class="xl">PI 36:2</text>
<text transform="translate(393.02 805.1) scale(1.07 1)" text-anchor="middle" class="an"><tspan font-style="italic">P</tspan> =.002</text>
<text transform="translate(381.32 818.8) scale(1.07 1)" text-anchor="middle" class="an">ab</text>
<text transform="translate(393.42 818.8) scale(1.07 1)" text-anchor="middle" class="an">a</text>
<text transform="translate(405.52 818.8) scale(1.07 1)" text-anchor="middle" class="an">b</text>
<rect x="424.54" y="884.83" width="10.8" height="146.9" fill="#d3d3d3" stroke="#1a1a1a" stroke-width="1.25"/>
<rect x="435.34" y="858.42" width="10.8" height="173.3" fill="#f98080" stroke="#1a1a1a" stroke-width="1.25"/>
<rect x="446.14" y="893.73" width="10.8" height="138" fill="#808080" stroke="#1a1a1a" stroke-width="1.25"/>
<path d="M429.94 851.5V916.9" stroke="#1a1a1a" stroke-width="1.1" fill="none"/>
<path d="M427.24 851.5H432.64M427.24 916.9H432.64" stroke="#111" stroke-width="1.35" fill="none"/>
<path d="M440.74 827.8V887.8" stroke="#1a1a1a" stroke-width="1.1" fill="none"/>
<path d="M438.04 827.8H443.44M438.04 887.8H443.44" stroke="#111" stroke-width="1.35" fill="none"/>
<path d="M451.54 858.9V927.3" stroke="#1a1a1a" stroke-width="1.1" fill="none"/>
<path d="M448.84 858.9H454.24M448.84 927.3H454.24" stroke="#111" stroke-width="1.35" fill="none"/>
<rect x="439.34" y="1031.1" width="2.8" height="8.3" fill="#000"/>
<text transform="translate(445.94 1053.6) rotate(-45)" text-anchor="end" class="xl">PI 36:3</text>
<text transform="translate(440.74 808) scale(1.07 1)" text-anchor="middle" class="an"><tspan font-style="italic">P</tspan> =.002</text>
<text transform="translate(428.64 821.9) scale(1.07 1)" text-anchor="middle" class="an">a</text>
<text transform="translate(440.74 821.9) scale(1.07 1)" text-anchor="middle" class="an">b</text>
<text transform="translate(452.84 821.9) scale(1.07 1)" text-anchor="middle" class="an">a</text>
<rect x="472.86" y="924.33" width="10.8" height="107.4" fill="#d3d3d3" stroke="#1a1a1a" stroke-width="1.25"/>
<rect x="483.66" y="905.23" width="10.8" height="126.5" fill="#f98080" stroke="#1a1a1a" stroke-width="1.25"/>
<rect x="494.46" y="947.12" width="10.8" height="84.6" fill="#808080" stroke="#1a1a1a" stroke-width="1.25"/>
<path d="M478.26 884.2V963.2" stroke="#1a1a1a" stroke-width="1.1" fill="none"/>
<path d="M475.56 884.2H480.96M475.56 963.2H480.96" stroke="#111" stroke-width="1.35" fill="none"/>
<path d="M489.06 872.8V936.4" stroke="#1a1a1a" stroke-width="1.1" fill="none"/>
<path d="M486.36 872.8H491.76M486.36 936.4H491.76" stroke="#111" stroke-width="1.35" fill="none"/>
<path d="M499.86 925.5V967.5" stroke="#1a1a1a" stroke-width="1.1" fill="none"/>
<path d="M497.16 925.5H502.56M497.16 967.5H502.56" stroke="#111" stroke-width="1.35" fill="none"/>
<rect x="487.66" y="1031.1" width="2.8" height="8.3" fill="#000"/>
<text transform="translate(494.26 1053.6) rotate(-45)" text-anchor="end" class="xl">PI 36:4</text>
<text transform="translate(489.06 854.3) scale(1.07 1)" text-anchor="middle" class="an"><tspan font-style="italic">P</tspan> <.001</text>
<text transform="translate(476.96 867.4) scale(1.07 1)" text-anchor="middle" class="an">b</text>
<text transform="translate(489.06 867.4) scale(1.07 1)" text-anchor="middle" class="an">b</text>
<text transform="translate(501.16 867.4) scale(1.07 1)" text-anchor="middle" class="an">a</text>
<rect x="521.18" y="1017.33" width="10.8" height="14.4" fill="#d3d3d3" stroke="#1a1a1a" stroke-width="1.25"/>
<rect x="531.98" y="1013.02" width="10.8" height="18.7" fill="#f98080" stroke="#1a1a1a" stroke-width="1.25"/>
<rect x="542.78" y="1020.02" width="10.8" height="11.7" fill="#808080" stroke="#1a1a1a" stroke-width="1.25"/>
<path d="M526.58 1010.7V1022.7" stroke="#1a1a1a" stroke-width="1.1" fill="none"/>
<path d="M523.88 1010.7H529.28M523.88 1022.7H529.28" stroke="#111" stroke-width="1.35" fill="none"/>
<path d="M537.38 1006.1V1018.7" stroke="#1a1a1a" stroke-width="1.1" fill="none"/>
<path d="M534.68 1006.1H540.08M534.68 1018.7H540.08" stroke="#111" stroke-width="1.35" fill="none"/>
<path d="M548.18 1015.7V1023.1" stroke="#1a1a1a" stroke-width="1.1" fill="none"/>
<path d="M545.48 1015.7H550.88M545.48 1023.1H550.88" stroke="#111" stroke-width="1.35" fill="none"/>
<rect x="535.98" y="1031.1" width="2.8" height="8.3" fill="#000"/>
<text transform="translate(542.58 1053.6) rotate(-45)" text-anchor="end" class="xl">PI 36:5</text>
<text transform="translate(536.88 988.4) scale(1.07 1)" text-anchor="middle" class="an"><tspan font-style="italic">P</tspan> <.001</text>
<text transform="translate(524.28 1001.6) scale(1.07 1)" text-anchor="middle" class="an">b</text>
<text transform="translate(536.38 1001.6) scale(1.07 1)" text-anchor="middle" class="an">c</text>
<text transform="translate(548.48 1001.6) scale(1.07 1)" text-anchor="middle" class="an">a</text>
<rect x="569.5" y="1006.92" width="10.8" height="24.8" fill="#d3d3d3" stroke="#1a1a1a" stroke-width="1.25"/>
<rect x="580.3" y="1006.92" width="10.8" height="24.8" fill="#f98080" stroke="#1a1a1a" stroke-width="1.25"/>
<rect x="591.1" y="1007.92" width="10.8" height="23.8" fill="#808080" stroke="#1a1a1a" stroke-width="1.25"/>
<path d="M574.9 994V1018.6" stroke="#1a1a1a" stroke-width="1.1" fill="none"/>
<path d="M572.2 994H577.6M572.2 1018.6H577.6" stroke="#111" stroke-width="1.35" fill="none"/>
<path d="M585.7 997.1V1015.5" stroke="#1a1a1a" stroke-width="1.1" fill="none"/>
<path d="M583 997.1H588.4M583 1015.5H588.4" stroke="#111" stroke-width="1.35" fill="none"/>
<path d="M596.5 999.3V1015.3" stroke="#1a1a1a" stroke-width="1.1" fill="none"/>
<path d="M593.8 999.3H599.2M593.8 1015.3H599.2" stroke="#111" stroke-width="1.35" fill="none"/>
<rect x="584.3" y="1031.1" width="2.8" height="8.3" fill="#000"/>
<text transform="translate(590.9 1053.6) rotate(-45)" text-anchor="end" class="xl">PI 38:3</text>
<rect x="617.82" y="960.92" width="10.8" height="70.8" fill="#d3d3d3" stroke="#1a1a1a" stroke-width="1.25"/>
<rect x="628.62" y="946.23" width="10.8" height="85.5" fill="#f98080" stroke="#1a1a1a" stroke-width="1.25"/>
<rect x="639.42" y="960.92" width="10.8" height="70.8" fill="#808080" stroke="#1a1a1a" stroke-width="1.25"/>
<path d="M623.22 937V983.6" stroke="#1a1a1a" stroke-width="1.1" fill="none"/>
<path d="M620.52 937H625.92M620.52 983.6H625.92" stroke="#111" stroke-width="1.35" fill="none"/>
<path d="M634.02 921.4V969.8" stroke="#1a1a1a" stroke-width="1.1" fill="none"/>
<path d="M631.32 921.4H636.72M631.32 969.8H636.72" stroke="#111" stroke-width="1.35" fill="none"/>
<path d="M644.82 938.4V982.2" stroke="#1a1a1a" stroke-width="1.1" fill="none"/>
<path d="M642.12 938.4H647.52M642.12 982.2H647.52" stroke="#111" stroke-width="1.35" fill="none"/>
<rect x="632.62" y="1031.1" width="2.8" height="8.3" fill="#000"/>
<text transform="translate(639.22 1053.6) rotate(-45)" text-anchor="end" class="xl">PI 38:4</text>
<text transform="translate(634.32 903.3) scale(1.07 1)" text-anchor="middle" class="an"><tspan font-style="italic">P</tspan> =.004</text>
<text transform="translate(622.52 916.9) scale(1.07 1)" text-anchor="middle" class="an">a</text>
<text transform="translate(634.62 916.9) scale(1.07 1)" text-anchor="middle" class="an">b</text>
<text transform="translate(646.72 916.9) scale(1.07 1)" text-anchor="middle" class="an">a</text>
<rect x="666.14" y="998.92" width="10.8" height="32.8" fill="#d3d3d3" stroke="#1a1a1a" stroke-width="1.25"/>
<rect x="676.94" y="990.92" width="10.8" height="40.8" fill="#f98080" stroke="#1a1a1a" stroke-width="1.25"/>
<rect x="687.74" y="1001.73" width="10.8" height="30" fill="#808080" stroke="#1a1a1a" stroke-width="1.25"/>
<path d="M671.54 989.6V1007" stroke="#1a1a1a" stroke-width="1.1" fill="none"/>
<path d="M668.84 989.6H674.24M668.84 1007H674.24" stroke="#111" stroke-width="1.35" fill="none"/>
<path d="M682.34 978.5V1002.1" stroke="#1a1a1a" stroke-width="1.1" fill="none"/>
<path d="M679.64 978.5H685.04M679.64 1002.1H685.04" stroke="#111" stroke-width="1.35" fill="none"/>
<path d="M693.14 992.3V1009.9" stroke="#1a1a1a" stroke-width="1.1" fill="none"/>
<path d="M690.44 992.3H695.84M690.44 1009.9H695.84" stroke="#111" stroke-width="1.35" fill="none"/>
<rect x="680.94" y="1031.1" width="2.8" height="8.3" fill="#000"/>
<text transform="translate(687.54 1053.6) rotate(-45)" text-anchor="end" class="xl">PI 38:5</text>
<text transform="translate(682.34 960.3) scale(1.07 1)" text-anchor="middle" class="an"><tspan font-style="italic">P</tspan> <.001</text>
<text transform="translate(669.74 973.9) scale(1.07 1)" text-anchor="middle" class="an">a</text>
<text transform="translate(681.84 973.9) scale(1.07 1)" text-anchor="middle" class="an">b</text>
<text transform="translate(693.94 973.9) scale(1.07 1)" text-anchor="middle" class="an">a</text>
<rect x="79.05" y="775.4" width="2.7" height="255.7" fill="#000"/>
<rect x="72.1" y="1029.7" width="634.9" height="2.8" fill="#000"/>
<text transform="translate(70.4 1036) scale(1.07 1)" text-anchor="end" class="tl">0</text>
<rect x="72.1" y="978.87" width="8.3" height="2.7" fill="#000"/>
<text transform="translate(70.4 985.12) scale(1.07 1)" text-anchor="end" class="tl">5</text>
<rect x="72.1" y="927.99" width="8.3" height="2.7" fill="#000"/>
<text transform="translate(70.4 934.24) scale(1.07 1)" text-anchor="end" class="tl">10</text>
<rect x="72.1" y="877.11" width="8.3" height="2.7" fill="#000"/>
<text transform="translate(70.4 883.36) scale(1.07 1)" text-anchor="end" class="tl">15</text>
<rect x="72.1" y="826.23" width="8.3" height="2.7" fill="#000"/>
<text transform="translate(70.4 832.48) scale(1.07 1)" text-anchor="end" class="tl">20</text>
<rect x="72.1" y="775.35" width="8.3" height="2.7" fill="#000"/>
<text transform="translate(70.4 781.6) scale(1.07 1)" text-anchor="end" class="tl">25</text>
<text transform="translate(45 903.9) rotate(-90)" text-anchor="middle" class="yt">Mol%</text>
<text transform="translate(-1.3 780.6) scale(1.04 1)" class="pn">(C)</text>
<rect x="559.5" y="782.1" width="19.5" height="9.2" fill="#d3d3d3" stroke="#1a1a1a" stroke-width="1.2"/>
<text transform="translate(591.6 791.8) scale(1.1 1)" class="lg">Peat 1</text>
<rect x="559.5" y="808.4" width="19.5" height="9.2" fill="#f98080" stroke="#1a1a1a" stroke-width="1.2"/>
<text transform="translate(591.6 818) scale(1.1 1)" class="lg">Wood shavings</text>
<rect x="559.5" y="834.6" width="19.5" height="9.2" fill="#808080" stroke="#1a1a1a" stroke-width="1.2"/>
<text transform="translate(591.6 844.2) scale(1.1 1)" class="lg">Peat 2</text>
</svg>
</body></html>
